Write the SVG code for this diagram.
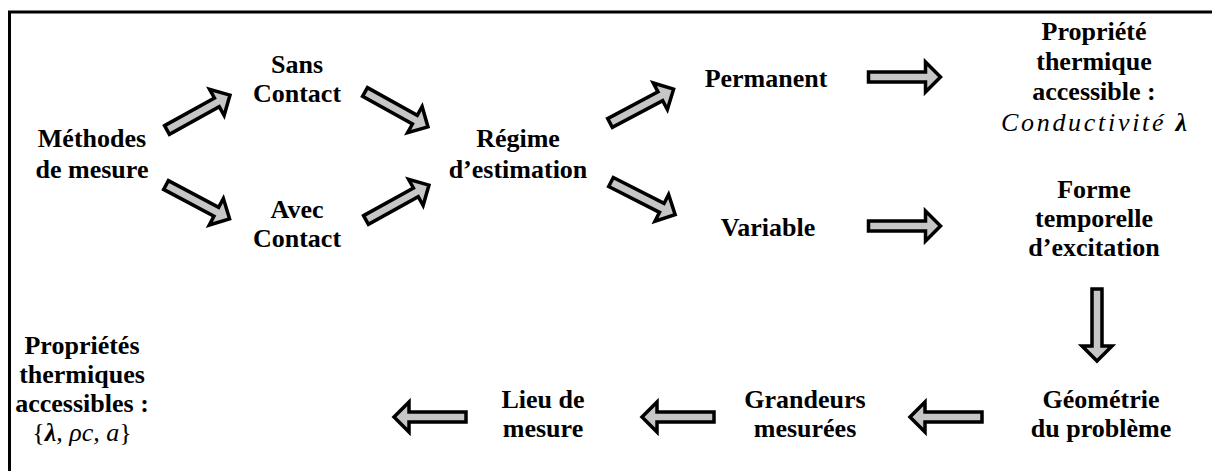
<svg xmlns="http://www.w3.org/2000/svg" width="1212" height="471" viewBox="0 0 1212 471">
<style>
.t{font-family:"Liberation Serif","Times New Roman",serif;font-weight:bold;font-size:26px;text-anchor:middle;fill:#000}
.i{font-style:italic;font-weight:normal}
.b{font-weight:bold}
.n{font-style:normal}
.arr{fill:#c6c6c6;stroke:#000;stroke-width:3.5;stroke-linejoin:miter;stroke-miterlimit:10}
</style>
<defs>
<path id="ar" d="M0,-5 L57,-5 L57,-15 L72,0 L57,15 L57,5 L0,5 Z"/>
</defs>
<rect x="9.5" y="12" width="1220" height="480" fill="#fff" stroke="#000" stroke-width="3"/>
<g id="connectors" class="arr">
<use href="#ar" transform="translate(167,130) rotate(-29)"/>
<use href="#ar" transform="translate(166,185) rotate(28)"/>
<use href="#ar" transform="translate(365,92) rotate(29)"/>
<use href="#ar" transform="translate(366,220) rotate(-29)"/>
<use href="#ar" transform="translate(610,123) rotate(-28)"/>
<use href="#ar" transform="translate(611,182) rotate(27)"/>
<use href="#ar" transform="translate(868.5,77)"/>
<use href="#ar" transform="translate(868.5,226)"/>
<use href="#ar" transform="translate(1097,289) rotate(90)"/>
<use href="#ar" transform="translate(466,417) rotate(180)"/>
<use href="#ar" transform="translate(714,417) rotate(180)"/>
<use href="#ar" transform="translate(982,417) rotate(180)"/>
</g>
<g id="methodes" class="t"><text x="92" y="147">Méthodes</text><text x="92" y="178">de mesure</text></g>
<g id="sans" class="t"><text x="297" y="73">Sans</text><text x="297" y="102">Contact</text></g>
<g id="avec" class="t"><text x="297" y="218">Avec</text><text x="297" y="247">Contact</text></g>
<g id="regime" class="t"><text x="518" y="147">Régime</text><text x="518" y="178">d’estimation</text></g>
<g id="permanent" class="t"><text x="766" y="87">Permanent</text></g>
<g id="variable" class="t"><text x="768" y="236">Variable</text></g>
<g id="propriete" class="t"><text x="1094" y="40">Propriété</text><text x="1094" y="70">thermique</text><text x="1094" y="100">accessible :</text><text x="1094" y="131" textLength="186" lengthAdjust="spacing"><tspan class="i">Conductivité </tspan><tspan class="i b">λ</tspan></text></g>
<g id="forme" class="t"><text x="1094" y="198">Forme</text><text x="1094" y="227">temporelle</text><text x="1094" y="256">d’excitation</text></g>
<g id="geometrie" class="t"><text x="1101" y="408">Géométrie</text><text x="1101" y="437">du problème</text></g>
<g id="grandeurs" class="t"><text x="805" y="408">Grandeurs</text><text x="805" y="437">mesurées</text></g>
<g id="lieu" class="t"><text x="543" y="408">Lieu de</text><text x="543" y="437">mesure</text></g>
<g id="proprietes" class="t"><text x="82" y="354">Propriétés</text><text x="82" y="383">thermiques</text><text x="82" y="412">accessibles :</text><text x="82" y="441"><tspan class="i n">{</tspan><tspan class="i b">λ</tspan><tspan class="i">, ρc,  a</tspan><tspan class="i n">}</tspan></text></g>
</svg>
